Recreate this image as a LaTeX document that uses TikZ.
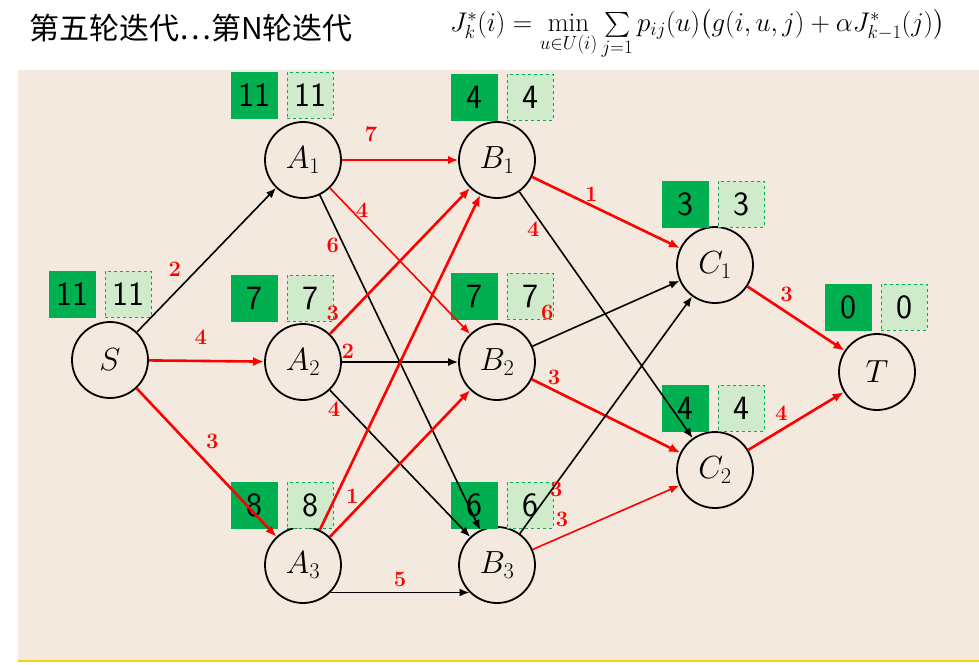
\RequirePackage{fix-cm}
\documentclass[tikz,border=0pt]{standalone}
\usepackage{amsmath}
\usepackage{fontspec}
\usetikzlibrary{arrows.meta,positioning}
\newfontfamily\cjk{Noto Sans CJK SC}
\definecolor{bgbeige}{HTML}{F3E9DE}
\definecolor{darkgreen}{HTML}{00B050}
\definecolor{lightgreen}{HTML}{D0EBCB}

\begin{document}
\begin{tikzpicture}[x=1pt,y=-1pt,
        state/.style={circle, draw, line width=1.8pt, minimum size=76pt, inner sep=0pt, font=\fontsize{32}{34}\selectfont},
        cost/.style={rectangle, fill=darkgreen, minimum size=47pt, inner sep=0pt, font=\sffamily\fontsize{34}{36}\selectfont},
        guess/.style={rectangle, draw=darkgreen, dashed, fill=lightgreen, minimum size=46pt, inner sep=0pt, font=\sffamily\fontsize{34}{36}\selectfont},
        plain/.style={draw=black, -{Latex[length=10pt,width=8pt]}, line width=1.6pt},
        best/.style={draw=red, -{Latex[length=11pt,width=9pt]}, line width=2.6pt},
        weak/.style={draw=red, -{Latex[length=10pt,width=8pt]}, line width=1.6pt},
        weight/.style={text=red, font=\bfseries\fontsize{22}{24}\selectfont, inner sep=1pt}
    ]
    \useasboundingbox[clip] (0,0) rectangle (979,664);
    
    % Background
    \fill[white] (0,0) rectangle (979,664);
    \fill[bgbeige] (18,70) rectangle (979,660);
    \draw[yellow!70!orange, line width=1.5pt] (18,661) -- (979,661);
    
    % Title and formula
    \node[anchor=west, font=\cjk\fontsize{30}{32}\selectfont] (title) at (26,28) {第五轮迭代…第N轮迭代};
    \node[anchor=west, font=\fontsize{27}{29}\selectfont, inner sep=0pt] (formula) at (450,34)
        {$J_k^*(i)=\min\limits_{u\in U(i)}\sum\limits_{j=1}p_{ij}(u)\bigl(g(i,u,j)+\alpha J_{k-1}^*(j)\bigr)$};
    
    % States
    \node[state] (S) at (110,360) {$S$};
    \node[state] (A1) at (303,160) {$A_1$};
    \node[state] (A2) at (303,362) {$A_2$};
    \node[state] (A3) at (303,565) {$A_3$};
    \node[state] (B1) at (497,160) {$B_1$};
    \node[state] (B2) at (497,362) {$B_2$};
    \node[state] (B3) at (497,565) {$B_3$};
    \node[state] (C1) at (715,265) {$C_1$};
    \node[state] (C2) at (715,470) {$C_2$};
    \node[state] (T) at (877,372) {$T$};
    
    % Cost boxes
    \foreach \n/\x/\y/\v in {s/72/294/11, a1/254/95/11, b1/474/97/4, c1/685/204/3,
                              a2/254/298/7, b2/474/296/7, t/848/307/0, c2/685/408/4,
                              a3/254/505/8, b3/474/505/6} {
        \node[cost] (cost-\n) at (\x,\y) {\v};
        \node[guess] (guess-\n) at (\x+56,\y) {\v};
    }
    
    % Edges
    \draw[plain] (S) -- node[weight, pos=0.35, above left=4pt] {2} (A1);
    \draw[best] (S) -- node[weight, pos=0.45, above=14pt] {4} (A2);
    \draw[best] (S) -- node[weight, pos=0.45, above right=6pt] {3} (A3);
    
    \draw[weak] (A1) -- node[weight, pos=0.25, above=16pt] {7} (B1);
    \draw[weak] (A1) -- node[weight, pos=0.15, right=3pt] {4} (B2);
    \draw[plain] (A1) -- node[weight, pos=0.15, left=3pt] {6} (B3);
    
    \draw[best] (A2) -- node[weight, pos=0.02, above=8pt] {3} (B1);
    \draw[plain] (A2) -- node[weight, pos=0.05, above=2pt] {2} (B2);
    \draw[plain] (A2) -- node[weight, pos=0.03, below=6pt] {4} (B3);
    
    \draw[best] (A3) -- node[weight, pos=0.1, right=8pt] {1} (B1);
    \draw[best] (A3) -- (B2);
    \draw[plain] (A3.south east) -- node[weight, above=4pt] {5} (B3.south west);
    
    \draw[best] (B1) -- node[weight, pos=0.4, above=2pt] {1} (C1);
    \draw[plain] (B1) -- node[weight, pos=0.15, left=4pt] {4} (C2);
    \draw[plain] (B2) -- node[weight, pos=0.1, above=18pt] {6} (C1);
    \draw[best] (B2) -- node[weight, pos=0.15, above=3pt] {3} (C2);
    \draw[plain] (B3) -- node[weight, pos=0.1, above right=16pt] {3} (C1);
    \draw[weak] (B3) -- node[weight, pos=0.2, above=8pt] {3} (C2);
    
    \draw[best] (C1) -- node[weight, pos=0.3, above right=2pt] {3} (T);
    \draw[best] (C2) -- node[weight, pos=0.45, above left=2pt] {4} (T);
    
    \end{tikzpicture}
\end{document}
